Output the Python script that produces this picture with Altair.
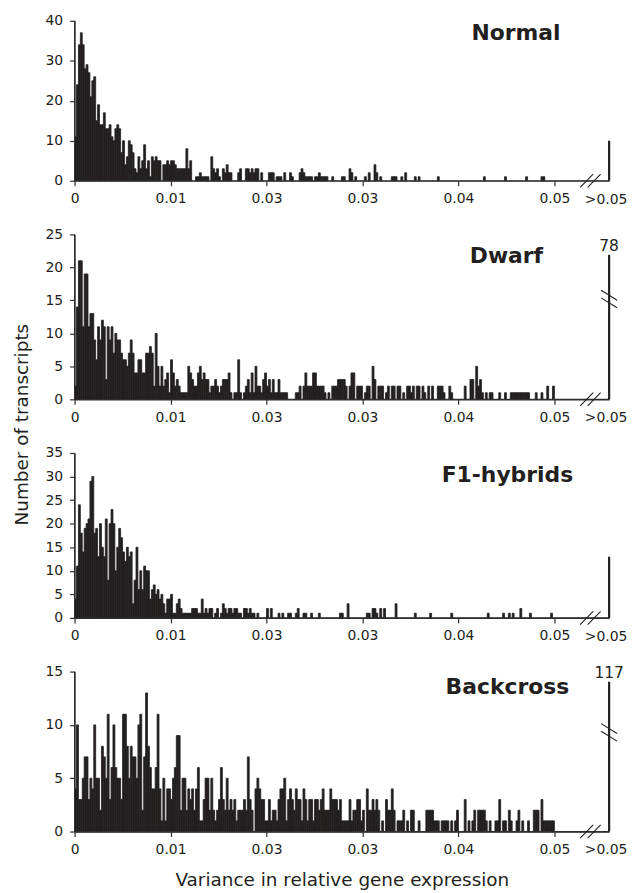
import altair as alt
import pandas as pd

# ---------------- data ----------------
PANELS = ["Normal", "Dwarf", "F1-hybrids", "Backcross"]
BIN_WIDTH = 0.0002  # histogram bin width; 250 bins from 0 to 0.05

NORMAL = [
    11, 24, 34, 37, 34, 28, 29, 27, 21, 25,
    26, 15, 19, 14, 14, 17, 13, 13, 14, 11,
    10, 13, 14, 13, 7, 10, 4, 6, 10, 9,
    7, 3, 2, 6, 3, 5, 9, 3, 5, 1,
    6, 5, 6, 5, 5, 0, 4, 4, 5, 4,
    5, 5, 4, 3, 3, 3, 3, 3, 8, 3,
    5, 0, 0, 1, 1, 2, 1, 1, 1, 1,
    0, 6, 3, 2, 3, 1, 0, 3, 2, 4,
    2, 2, 0, 0, 0, 2, 3, 0, 0, 3,
    3, 2, 3, 2, 3, 3, 0, 2, 0, 0,
    0, 2, 2, 2, 0, 1, 1, 1, 0, 2,
    0, 0, 2, 1, 0, 0, 0, 2, 3, 2,
    1, 1, 1, 1, 0, 1, 1, 2, 1, 1,
    1, 1, 0, 0, 1, 0, 0, 0, 0, 1,
    1, 0, 0, 3, 2, 0, 1, 0, 0, 0,
    0, 1, 0, 2, 0, 0, 4, 2, 0, 1,
    0, 0, 0, 0, 0, 1, 1, 1, 0, 0,
    1, 0, 2, 0, 0, 0, 0, 1, 0, 1,
    0, 0, 0, 0, 0, 0, 0, 0, 0, 1,
    0, 0, 0, 0, 0, 0, 0, 0, 0, 0,
    0, 0, 0, 0, 0, 0, 0, 0, 0, 0,
    0, 0, 0, 1, 0, 0, 0, 0, 0, 0,
    0, 0, 0, 0, 1, 0, 0, 0, 0, 0,
    0, 0, 0, 0, 0, 1, 0, 0, 0, 0,
    0, 0, 0, 1, 1, 0, 0, 0, 0, 0,
]

DWARF = [
    2, 14, 21, 21, 11, 19, 19, 11, 13, 13,
    9, 6, 11, 9, 12, 11, 3, 11, 9, 11,
    7, 10, 9, 9, 7, 6, 6, 5, 7, 9,
    7, 4, 4, 6, 6, 4, 4, 7, 7, 8,
    7, 2, 10, 5, 2, 5, 2, 3, 4, 1,
    6, 4, 2, 3, 2, 1, 1, 1, 1, 5,
    4, 3, 2, 2, 4, 5, 3, 4, 3, 3,
    1, 2, 2, 3, 2, 1, 2, 3, 3, 3,
    4, 1, 0, 1, 1, 6, 1, 0, 1, 2,
    3, 1, 4, 1, 5, 2, 2, 1, 3, 4,
    2, 3, 1, 3, 1, 1, 3, 1, 1, 1,
    1, 0, 0, 0, 0, 1, 1, 2, 0, 2,
    4, 2, 2,
    2, 4, 4, 2, 2,
    2, 2, 1, 0, 1, 0, 2, 2, 2, 3,
    3, 3, 3, 2, 0, 2, 4, 4, 0, 2,
    2, 2, 0, 1, 2, 2, 0, 5, 3, 0,
    2, 2, 2, 0, 1, 2, 0, 2, 2, 0,
    2, 2, 0, 1, 0, 2, 2, 1, 2, 0,
    2, 2, 0, 2, 1, 0, 2, 0, 2, 0,
    0, 2, 2, 2, 1, 0, 0, 2, 1, 0,
    0, 0, 0, 0, 0, 2, 0, 0, 3, 3,
    0, 5, 2, 3, 1, 0, 1, 0, 1, 1,
    0, 0, 0, 1, 0, 0, 1, 0, 0, 1,
    1, 1, 1, 1, 1, 1, 1, 1, 1, 0,
    0, 0, 1, 0, 0, 1, 0, 0, 2, 0,
    0, 2,
]

F1_HYBRIDS = [
    4, 11, 24, 18, 14, 19, 20, 21, 29, 30,
    18, 19, 13, 20, 15, 13, 21, 8, 20, 23,
    20, 10, 15, 19, 17, 14, 12, 15, 13, 14,
    3, 8, 15, 6, 10, 6, 11, 10, 10, 4,
    6, 7, 5, 6, 4, 5, 3, 1, 4, 4,
    5, 1, 1, 3, 4, 2, 1, 1, 1, 1,
    1, 2, 2, 2, 1, 1, 4, 1, 2, 1,
    2, 2, 0, 1, 2, 0, 1, 3, 2, 1,
    2, 2, 1, 2, 2, 1, 1, 0, 2, 2,
    1, 2, 1, 1, 0, 1, 0, 0, 0, 0,
    2, 0, 2, 0, 0, 0, 1, 0, 1, 0,
    0, 1, 1, 0, 0, 1, 2, 0, 0, 1,
    1,
    0, 0, 1, 0, 0, 0, 1, 0, 0, 0,
    0, 0, 0, 0, 0, 0, 0, 1, 1, 0,
    0, 3, 0, 0, 0, 0, 0, 0, 0, 0,
    0, 1, 1, 0, 2, 2, 1, 0, 2, 0,
    2, 0, 0, 0, 0, 0, 3, 0, 0, 0,
    0, 0, 0, 0, 0, 0, 1, 0, 0, 0,
    0, 0, 0, 0, 1, 0, 0, 0, 0, 0,
    0, 0, 0, 0, 0, 1, 0, 0, 0, 0,
    0, 0, 0, 0, 0, 0, 0, 0, 0, 0,
    0, 0, 0, 0, 1, 0, 0, 0, 0, 0,
    0, 0, 1, 0, 0, 1, 0, 1, 0, 0,
    0, 2, 0, 0, 0, 0, 1, 0, 0, 0,
    0, 0, 0, 0, 0, 0, 0, 1, 0,
]

BACKCROSS = [
    4, 10, 3, 3, 5, 7, 7, 3, 5, 4,
    10, 5, 5, 2, 8, 7, 5, 11, 3, 6,
    10, 6, 5, 5, 3, 11, 11, 8, 5, 8,
    7, 7, 5, 10, 11, 2, 7, 13, 8, 6,
    4, 4, 6, 11, 4, 1, 5, 1, 4, 4,
    3, 5, 6, 9, 9, 2, 5, 5, 2, 4,
    3, 4, 2, 4, 6, 1, 1, 3, 5, 5,
    2, 5, 2, 1, 2, 3, 6, 3, 2, 5,
    2, 3, 2, 3, 1, 2, 2, 2, 3, 2,
    7, 3, 2, 0, 4, 5, 4, 3, 3, 1,
    1, 3, 1, 2, 2, 1, 3, 4, 4, 5,
    1, 3, 4, 3, 2, 4, 3, 3, 1, 4,
    3, 1, 3,
    3, 1, 3, 3, 2, 3, 4,
    2, 2, 2, 4, 3, 3, 3, 2, 3, 1,
    1, 1, 1, 3, 1, 2, 2, 3, 3, 1,
    2, 0, 4, 2, 2, 3, 2, 3, 2, 0,
    1, 0, 3, 2, 2, 4, 2, 0, 1, 1,
    1, 2, 0, 1, 0, 2, 2, 0, 0, 1,
    0, 0, 0, 2, 2, 2, 2, 1, 1, 1,
    0, 1, 1, 1, 1, 0, 1, 0, 1, 2,
    0, 0, 0, 3, 0, 1, 0, 1, 2, 0,
    2, 2, 2, 2, 1, 0, 1, 0, 0, 1,
    1, 3, 0, 1, 1, 0, 2, 1, 0, 0,
    1, 2, 0, 1, 0, 0, 1, 0, 0, 2,
    2, 2, 0, 3, 1, 1, 1, 1, 1, 1,
]

SERIES = [NORMAL, DWARF, F1_HYBRIDS, BACKCROSS]
OVER_005 = [10, 78, 13, 117]          # transcripts with variance > 0.05
Y_MAX = [40, 25, 35, 15]
Y_STEP = [10, 5, 5, 5]
X_TICKS = [0, 0.01, 0.02, 0.03, 0.04, 0.05]
X_TICK_LABELS = ["0", "0.01", "0.03", "0.03", "0.04", "0.05"]
OVER_LABEL = ">0.05"
X_TITLE = "Variance in relative gene expression"
Y_TITLE = "Number of transcripts"

# ---------------- style / layout ----------------
FONT = "DejaVu Sans"
INK = "#231f20"
AXIS_C = "#2e2e2e"
PLOT_W = 538
PANEL_H = [161, 166, 166, 161]
GAP = 54
X_END = 0.0557                     # position of the ">0.05" column (end of axis)
PXU = PLOT_W / X_END               # pixels per variance unit
BROKEN_TOP = {1: 21.9, 3: 14.05}    # drawn height of the broken ">0.05" bars
BREAK_CENTER = {1: 15.2, 3: 9.3}
X_BREAKS = [0.05336, 0.05414]
TITLE_X = [0.0460, 0.0450, 0.0451, 0.0451]
TITLE_BASE = [19, 29, 29, 23]

LABEL_EXPR = "[" + ",".join("'%s'" % s for s in X_TICK_LABELS) + "][round(datum.value * 100)]"


def panel(k):
    H = PANEL_H[k]
    ymax = Y_MAX[k]
    ypu = H / ymax  # pixels per count unit
    counts = SERIES[k]
    bins = pd.DataFrame({"lo": [i * BIN_WIDTH for i in range(len(counts))], "n": counts})
    bins["hi"] = bins["lo"] + BIN_WIDTH
    bins["zero"] = 0
    bins = bins[bins["n"] > 0]

    xs = alt.Scale(domain=[0, X_END], nice=False, zero=False)
    ys = alt.Scale(domain=[0, ymax], nice=False)

    xkw = dict(values=X_TICKS, labelExpr=LABEL_EXPR, labelPadding=6, domain=True)
    if k == len(PANELS) - 1:
        xkw.update(title=X_TITLE, titleX=PLOT_W / 2, titleY=54, titleAlign="center",
                   titleBaseline="alphabetic")
    else:
        xkw.update(title="")
    xaxis = alt.Axis(**xkw)

    ykw = dict(values=list(range(0, ymax + 1, Y_STEP[k])), format="d", labelPadding=7, domain=True)
    if k == 1:
        ykw.update(title=Y_TITLE, titleX=-47, titleY=191, titleAngle=270, titleAlign="center",
                   titleBaseline="alphabetic")
    else:
        ykw.update(title="")
    yaxis = alt.Axis(**ykw)

    def X(f):
        return alt.X(f, type="quantitative", scale=xs, axis=xaxis)

    def Y(f):
        return alt.Y(f, type="quantitative", scale=ys, axis=yaxis)

    layers = []

    layers.append(
        alt.Chart(bins).mark_rect(color=INK, stroke=INK, strokeWidth=0.8)
        .encode(x=X("lo"), x2="hi", y=Y("zero"), y2="n")
    )

    v = OVER_005[k]
    top = BROKEN_TOP[k] if v > ymax else v
    over = pd.DataFrame({"x": [X_END], "zero": [0], "top": [top], "v": [str(v)], "lab": [OVER_LABEL]})

    # axis lines along the plot's bottom and left edges
    layers.append(
        alt.Chart(over).mark_rule(color=AXIS_C, strokeWidth=1.2)
        .encode(x=alt.value(0), x2=alt.value(PLOT_W), y=alt.value(H))
    )
    layers.append(
        alt.Chart(over).mark_rule(color=AXIS_C, strokeWidth=1.2)
        .encode(x=alt.value(0), y=alt.value(0), y2=alt.value(H))
    )

    layers.append(
        alt.Chart(over).mark_rule(color=INK, strokeWidth=2.2).encode(x=X("x"), y=Y("zero"), y2="top")
    )
    layers.append(
        alt.Chart(over).mark_text(font=FONT, fontSize=14, color=INK, align="center", baseline="top", dx=-3)
        .encode(x=X("x"), y=alt.value(H + 12), text="lab:N")
    )

    # x-axis break marks
    xb = pd.DataFrame({
        "x": [c - 6.5 / PXU for c in X_BREAKS],
        "x2": [c + 6.5 / PXU for c in X_BREAKS],
        "y": [-6.7 / ypu] * len(X_BREAKS),
        "y2": [6.7 / ypu] * len(X_BREAKS),
    })
    layers.append(
        alt.Chart(xb).mark_rule(color=INK, strokeWidth=1.1).encode(x=X("x"), x2="x2", y=Y("y"), y2="y2")
    )

    if v > ymax:
        layers.append(
            alt.Chart(over).mark_text(font=FONT, fontSize=15.5, color=INK, align="center",
                                      baseline="alphabetic", dy=-4)
            .encode(x=X("x"), y=Y("top"), text="v:N")
        )
        c = BREAK_CENTER[k]
        off = 3.8 / ypu
        vb = pd.DataFrame({
            "x": [X_END - 8 / PXU] * 2,
            "x2": [X_END + 8 / PXU] * 2,
            "y": [c + off + 5 / ypu, c - off + 5 / ypu],
            "y2": [c + off - 5 / ypu, c - off - 5 / ypu],
        })
        layers.append(
            alt.Chart(vb).mark_rule(color=INK, strokeWidth=1.1).encode(x=X("x"), x2="x2", y=Y("y"), y2="y2")
        )

    name = pd.DataFrame({"x": [TITLE_X[k]], "name": [PANELS[k]]})
    layers.append(
        alt.Chart(name).mark_text(font=FONT, fontSize=22, fontWeight="bold", color=INK,
                                  align="center", baseline="alphabetic")
        .encode(x=X("x"), y=alt.value(TITLE_BASE[k]), text="name:N")
    )

    return alt.layer(*layers).properties(width=PLOT_W, height=H)


chart = (
    alt.vconcat(*[panel(k) for k in range(len(PANELS))], spacing=GAP, bounds="flush")
    .resolve_scale(x="independent", y="independent")
    .properties(padding={"left": 5, "right": 0, "top": 3, "bottom": 0})
    .configure_view(stroke=None)
    .configure_axis(
        grid=False,
        domain=True,
        domainWidth=1.2,
        tickWidth=1.2,
        labelFont=FONT,
        labelFontSize=14,
        labelColor=INK,
        domainColor=AXIS_C,
        tickColor=AXIS_C,
        tickSize=5,
        titleFont=FONT,
        titleFontSize=18.5,
        titleFontWeight="normal",
        titleColor=INK,
        labelFlush=False,
        labelOverlap=False,
    )
)

chart.save("out.html", embed_options={"renderer": "svg", "actions": False})
